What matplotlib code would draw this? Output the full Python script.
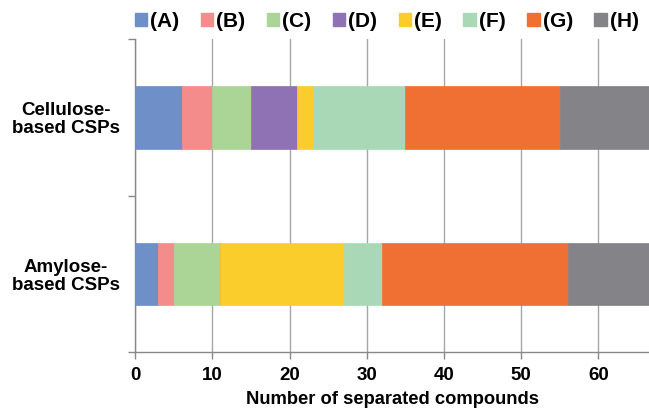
import matplotlib
matplotlib.use("Agg")
import matplotlib.pyplot as plt
from matplotlib.patches import Patch
import numpy as np

plt.rcParams['font.family'] = ['Liberation Sans', 'DejaVu Sans']

categories = ["Amylose-\nbased CSPs", "Cellulose-\nbased CSPs"]
series_labels = ["(A)", "(B)", "(C)", "(D)", "(E)", "(F)", "(G)", "(H)"]
amylose = [3, 2, 6, 0, 16, 5, 24, 12]
cellulose = [6, 4, 5, 6, 2, 12, 20, 13]
colors = ["#6F8FC9", "#F48C8C", "#ABD596", "#8E72B3", "#FACD2C", "#A8D8B6", "#F07033", "#848488"]
xticks = [0, 10, 20, 30, 40, 50, 60]

fig = plt.figure(figsize=(6.49, 4.08), dpi=100)
ax = fig.add_axes([0.2083, 0.137, 0.7917, 0.767])

data = np.array([amylose, cellulose])
ypos = np.arange(len(categories))
left = np.zeros(len(categories))
for i, lab in enumerate(series_labels):
    ax.barh(ypos, data[:, i], left=left, height=0.40, color=colors[i],
            edgecolor=colors[i], linewidth=0.5, zorder=3)
    left += data[:, i]

ax.set_xlim(0, 66.55)
ax.set_ylim(-0.5, 1.5)
ax.set_xticks(xticks)
ax.set_xticklabels([str(t) for t in xticks], fontsize=13.5, fontweight='bold')
ax.set_yticks(ypos)
ax.set_yticklabels(categories, fontsize=13.5, fontweight='bold', ha='center',
                   linespacing=1.08)
ax.tick_params(axis='y', which='major', length=0, pad=50)
ax.set_yticks([-0.5, 0.5, 1.5], minor=True)
ax.tick_params(axis='y', which='minor', length=5, color='#888888', width=1)
ax.tick_params(axis='x', length=5, color='#888888', width=1, pad=6)

ax.grid(axis='x', color='#A6A6A6', linewidth=1, zorder=0)
for s in ['top', 'right']:
    ax.spines[s].set_visible(False)
for s in ['left', 'bottom']:
    ax.spines[s].set_color('#888888')
    ax.spines[s].set_linewidth(1)

ax.set_xlabel("Number of separated compounds", fontsize=13.2, fontweight='bold', labelpad=5)

handles = [Patch(facecolor=c, edgecolor=c) for c in colors]
fig.legend(handles, series_labels, loc='center', bbox_to_anchor=(0.596, 0.948), ncol=8,
           frameon=False, handlelength=0.6, handleheight=0.6, handletextpad=0.15,
           columnspacing=1.02, prop={'weight': 'bold', 'size': 15})

fig.savefig("out.png", dpi=100)
